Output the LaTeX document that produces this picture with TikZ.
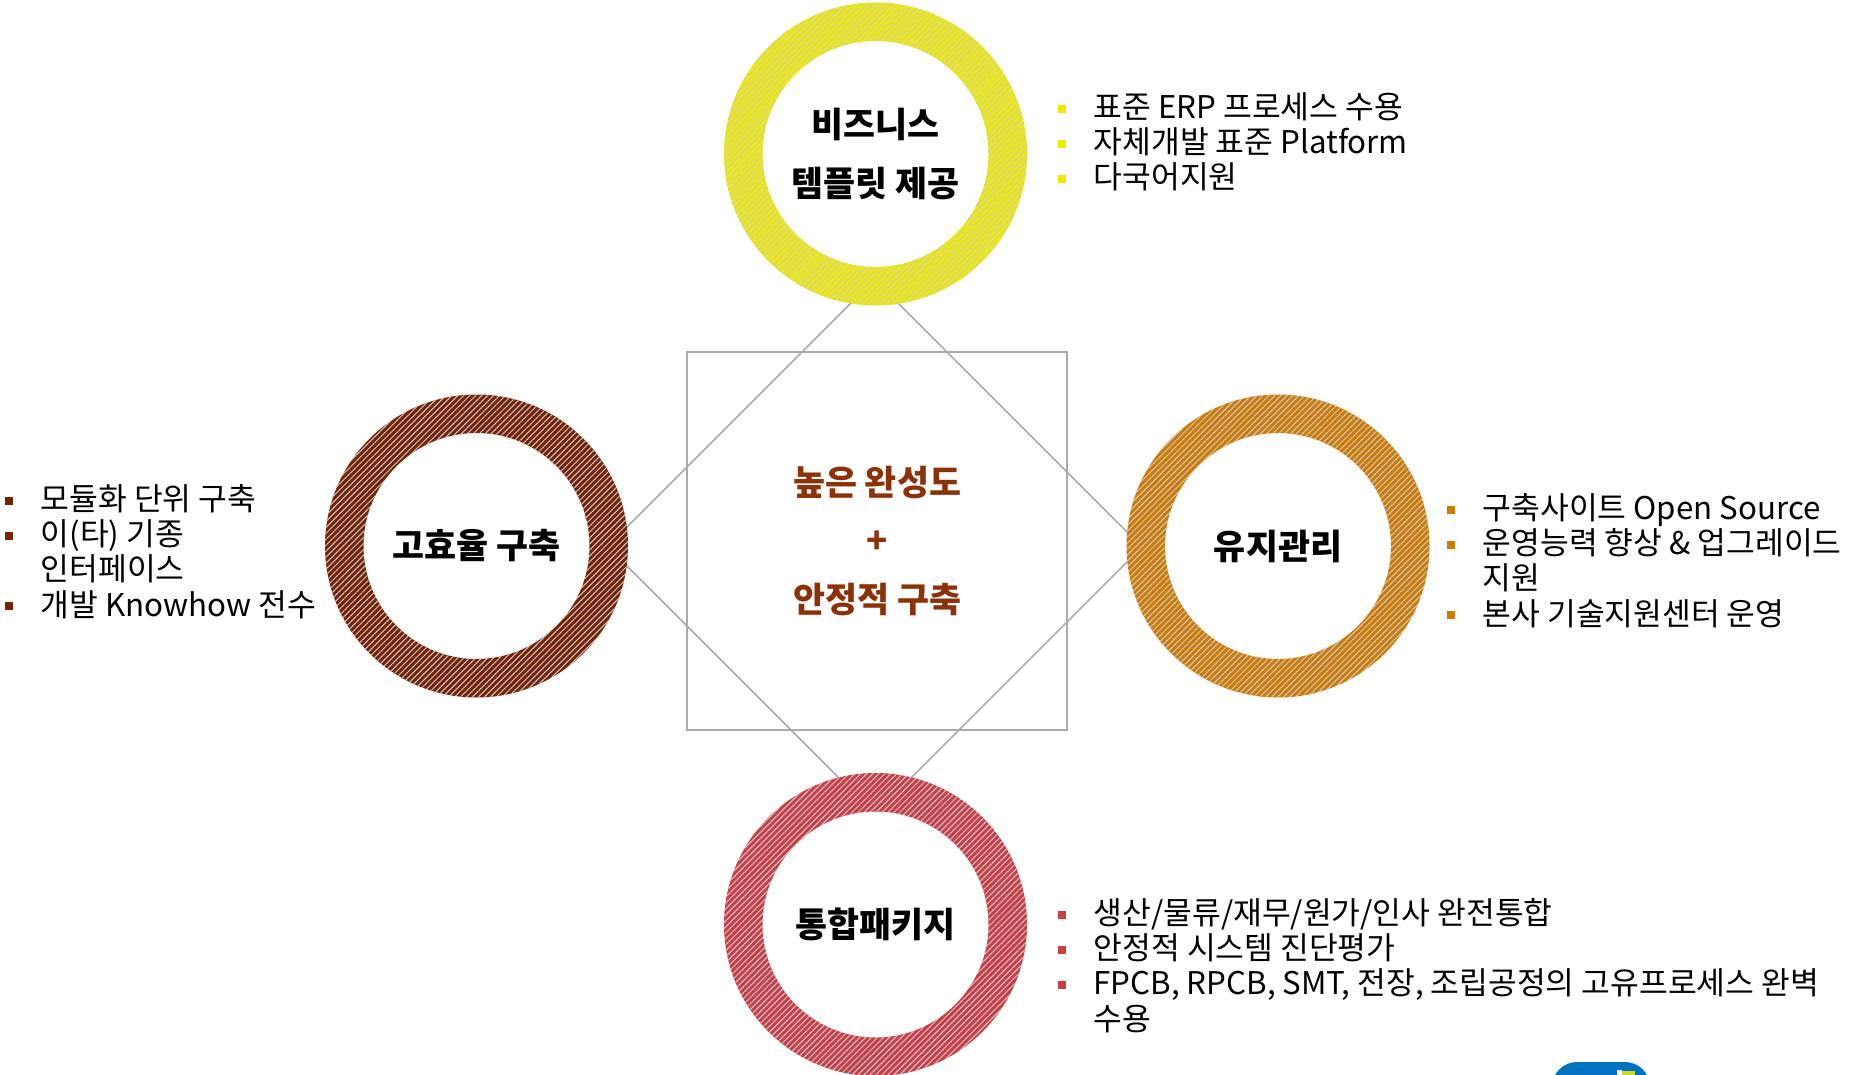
\documentclass[tikz,border=0pt]{standalone}
\usepackage{fontspec}
\setmainfont{Noto Sans CJK KR}
\usetikzlibrary{patterns.meta}

\definecolor{ringyellow}{RGB}{238,234,0}
\definecolor{ringbrown}{RGB}{118,36,0}
\definecolor{ringorange}{RGB}{206,124,0}
\definecolor{ringred}{RGB}{200,64,66}
\definecolor{stripe}{RGB}{200,200,222}
\definecolor{hubtext}{RGB}{140,50,10}
\definecolor{linegray}{RGB}{170,170,170}
\definecolor{logoblue}{RGB}{0,112,192}
\definecolor{logolime}{RGB}{200,220,40}

\newcommand{\sqbul}[1]{\leavevmode\llap{\textcolor{#1}{\rule[1.6pt]{2.3pt}{2.3pt}}\hspace{7.9pt}}}

\tikzset{
  hub/.style={circle, fill=white, minimum size=2.26cm, inner sep=0pt, align=center,
    font=\bfseries\fontsize{9.9}{16.8}\selectfont},
  ring/.style={even odd rule, preaction={fill=#1, even odd rule},
    pattern={Lines[angle=45,distance=1.2pt,line width=0.28pt]}, pattern color=stripe},
  bullets/.style={anchor=base west, align=left, inner sep=0pt,
    font=\fontsize{8.9}{10}\selectfont},
}

\begin{document}
\begin{tikzpicture}
    \clip (0,0) rectangle (18.74,-10.74);

    % 가운데 사각형과 마름모
    \node[draw=linegray, line width=0.55pt, minimum width=3.8cm, minimum height=3.78cm, align=center,
      text=hubtext, font=\bfseries\fontsize{9.9}{16.6}\selectfont] (core) at (8.77,-5.41)
      {높은 완성도\\+\\안정적 구축};

    \coordinate (dT) at (8.745,-2.795);
    \coordinate (dR) at (11.42,-5.47);
    \coordinate (dB) at (8.75,-8.14);
    \coordinate (dL) at (6.075,-5.465);
    \draw[linegray, line width=0.45pt] (dT) -- (dR) -- (dB) -- (dL) -- cycle;

    \node[hub] (biz) at (8.755,-1.54) {비즈니스\\템플릿 제공};
    \node[hub] (eff) at (4.765,-5.46) {고효율 구축};
    \node[hub] (maint) at (12.78,-5.46) {유지관리};
    \node[hub] (pkg) at (8.755,-9.245) {통합패키지};

    \fill[ring=ringyellow] (biz.center) circle[radius=1.515] (biz.center) circle[radius=1.13];
    \fill[ring=ringbrown] (eff.center) circle[radius=1.515] (eff.center) circle[radius=1.13];
    \fill[ring=ringorange] (maint.center) circle[radius=1.515] (maint.center) circle[radius=1.13];
    \fill[ring=ringred] (pkg.center) circle[radius=1.515] (pkg.center) circle[radius=1.13];

    % 목록 (base = 마지막 줄)
    \node[bullets] (bizlist) at (10.93,-1.885)
      {\sqbul{ringyellow}표준 ERP 프로세스 수용\\
       \sqbul{ringyellow}자체개발 표준 Platform\\
       \sqbul{ringyellow}다국어지원};
    \node[bullets] (efflist) at (0.40,-6.16)
      {\sqbul{ringbrown}모듈화 단위 구축\\
       \sqbul{ringbrown}이(타) 기종\\
       인터페이스\\
       \sqbul{ringbrown}개발 Knowhow 전수};
    \node[bullets] (maintlist) at (14.82,-6.25)
      {\sqbul{ringorange}구축사이트 Open Source\\
       \sqbul{ringorange}운영능력 향상 \& 업그레이드\\
       지원\\
       \sqbul{ringorange}본사 기술지원센터 운영};
    \node[bullets] (pkglist) at (10.93,-10.30)
      {\sqbul{ringred}생산/물류/재무/원가/인사 완전통합\\
       \sqbul{ringred}안정적 시스템 진단평가\\
       \sqbul{ringred}FPCB, RPCB, SMT, 전장, 조립공정의 고유프로세스 완벽\\
       수용};

    % 오른쪽 아래 로고 (잘림)
    \fill[logoblue, rounded corners=0.25cm] (15.52,-11.3) rectangle (16.50,-10.62);
    \fill[white] (16.17,-10.70) rectangle (16.22,-11.0);
    \fill[logolime] (16.22,-10.71) rectangle (16.35,-11.0);
\end{tikzpicture}
\end{document}
